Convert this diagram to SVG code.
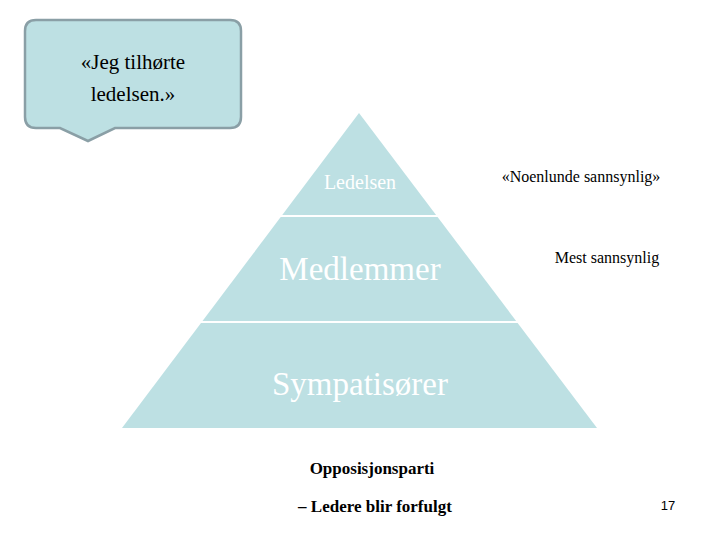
<svg xmlns="http://www.w3.org/2000/svg" width="720" height="540" viewBox="0 0 720 540">
<style>
.t{font-family:"Liberation Serif",serif;}
.w{fill:#ffffff;}
.b{fill:#000;}
</style>
<rect width="720" height="540" fill="#fff"/>
<g id="callout">
<path d="M36,20 H230 Q241,20 241,31 V117 Q241,128 230,128 H115 L88,141 L60,128 H36 Q25,128 25,117 V31 Q25,20 36,20 Z" fill="#bde0e3" stroke="#8a9fa6" stroke-width="2.5"/>
<text class="t b" x="133" y="69" font-size="21" text-anchor="middle">«Jeg tilhørte</text>
<text class="t b" x="133" y="101" font-size="21" text-anchor="middle">ledelsen.»</text>
</g>
<g id="pyramid">
<polygon points="359,113 597,428 122,428" fill="#bde0e3"/>
<line x1="280" y1="216" x2="438" y2="216" stroke="#fff" stroke-width="2"/>
<line x1="201" y1="322" x2="518" y2="322" stroke="#fff" stroke-width="2"/>
<text class="t w" x="360" y="189" font-size="20" text-anchor="middle">Ledelsen</text>
<text class="t w" x="360" y="280" font-size="33" text-anchor="middle">Medlemmer</text>
<text class="t w" x="360" y="395" font-size="33" text-anchor="middle">Sympatisører</text>
</g>
<g id="labels">
<text class="t b" x="581" y="182" font-size="16" text-anchor="middle">«Noenlunde sannsynlig»</text>
<text class="t b" x="607" y="263" font-size="16" text-anchor="middle">Mest sannsynlig</text>
<text class="t b" x="372" y="474" font-size="17" font-weight="bold" text-anchor="middle">Opposisjonsparti</text>
<text class="t b" x="375" y="512" font-size="17" font-weight="bold" text-anchor="middle">– Ledere blir forfulgt</text>
<text x="668" y="510" font-family="Liberation Sans,sans-serif" font-size="13" text-anchor="middle">17</text>
</g>
</svg>
